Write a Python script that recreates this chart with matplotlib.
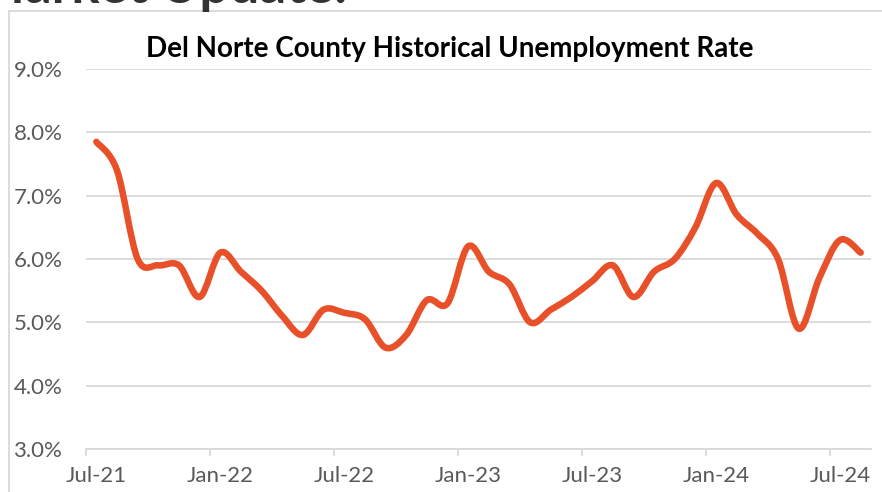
import numpy as np
import matplotlib.pyplot as plt
from matplotlib.path import Path
from matplotlib.patches import PathPatch, Rectangle

# Monthly unemployment rate, Del Norte County
months = ['Jul-21', 'Aug-21', 'Sep-21', 'Oct-21', 'Nov-21', 'Dec-21',
          'Jan-22', 'Feb-22', 'Mar-22', 'Apr-22', 'May-22', 'Jun-22',
          'Jul-22', 'Aug-22', 'Sep-22', 'Oct-22', 'Nov-22', 'Dec-22',
          'Jan-23', 'Feb-23', 'Mar-23', 'Apr-23', 'May-23', 'Jun-23',
          'Jul-23', 'Aug-23', 'Sep-23', 'Oct-23', 'Nov-23', 'Dec-23',
          'Jan-24', 'Feb-24', 'Mar-24', 'Apr-24', 'May-24', 'Jun-24',
          'Jul-24', 'Aug-24']
rate = [7.85, 7.4, 6.0, 5.9, 5.9, 5.4,
        6.1, 5.8, 5.5, 5.1, 4.8, 5.2,
        5.15, 5.05, 4.6, 4.8, 5.35, 5.3,
        6.2, 5.8, 5.6, 5.0, 5.2, 5.4,
        5.65, 5.9, 5.4, 5.8, 6.0, 6.5,
        7.2, 6.7, 6.4, 6.0, 4.9, 5.7,
        6.3, 6.1]
yticks = [3, 4, 5, 6, 7, 8, 9]
tick_labels = ['Jul-21', 'Jan-22', 'Jul-22', 'Jan-23', 'Jul-23', 'Jan-24', 'Jul-24']

LINE = '#E8502A'
GRID = '#d9d9d9'
TXT = '#595959'
FONT = ['Lato', 'DejaVu Sans']

fig = plt.figure(figsize=(8.82, 4.92), dpi=100)
ax = fig.add_axes([86 / 882, 1 - 449 / 492, 785 / 882, 380 / 492])

# smoothed line like Excel: cubic bezier segments through each point
x = np.arange(len(rate), dtype=float)
y = np.array(rate)
verts = [(x[0], y[0])]
codes = [Path.MOVETO]
n = len(x)
for i in range(n - 1):
    i0, i3 = max(i - 1, 0), min(i + 2, n - 1)
    c1 = (x[i] + (x[i + 1] - x[i0]) / 6, y[i] + (y[i + 1] - y[i0]) / 6)
    c2 = (x[i + 1] - (x[i3] - x[i]) / 6, y[i + 1] - (y[i3] - y[i]) / 6)
    verts += [c1, c2, (x[i + 1], y[i + 1])]
    codes += [Path.CURVE4] * 3
ax.add_patch(PathPatch(Path(verts, codes), fill=False, edgecolor=LINE,
                       lw=4.7, capstyle='round', joinstyle='round', zorder=3))

ax.set_xlim(-0.5, n - 0.5)
ax.set_ylim(3, 9)
ax.set_yticks(yticks)
ax.set_yticklabels([f'{v:.1f}%' for v in yticks])
ax.set_xticks([months.index(m) for m in tick_labels])
ax.set_xticklabels(tick_labels)
ax.set_xticks(np.arange(-0.5, n - 1, 6), minor=True)
ax.grid(axis='y', color=GRID, lw=1.3)
ax.set_axisbelow(True)
for s in ['left', 'right', 'top']:
    ax.spines[s].set_visible(False)
ax.spines['bottom'].set_color(GRID)
ax.spines['bottom'].set_linewidth(1.3)
ax.tick_params(axis='both', which='major', length=0, labelsize=16,
               labelcolor=TXT)
ax.tick_params(axis='y', pad=17)
ax.tick_params(axis='x', pad=12)
ax.tick_params(axis='x', which='minor', length=5, width=1.3, color=GRID)
for lab in ax.get_xticklabels() + ax.get_yticklabels():
    lab.set_family(FONT)

# chart frame and titles
fig.patches.append(Rectangle((9 / 882, -0.1), 1.2, 1.1 - 11 / 492,
                             transform=fig.transFigure, fill=False,
                             edgecolor=GRID, lw=1.3))
fig.text(450 / 882, 1 - 49 / 492, 'Del Norte County Historical Unemployment Rate',
         ha='center', va='center', fontsize=20, fontweight='bold',
         family=FONT, color='black')
fig.text(347 / 882, 1 - 3 / 492, 'Market Update:', ha='right', va='baseline',
         fontsize=38, fontweight='bold', family=FONT, color='#333333')

fig.savefig('out.png', dpi=100)
